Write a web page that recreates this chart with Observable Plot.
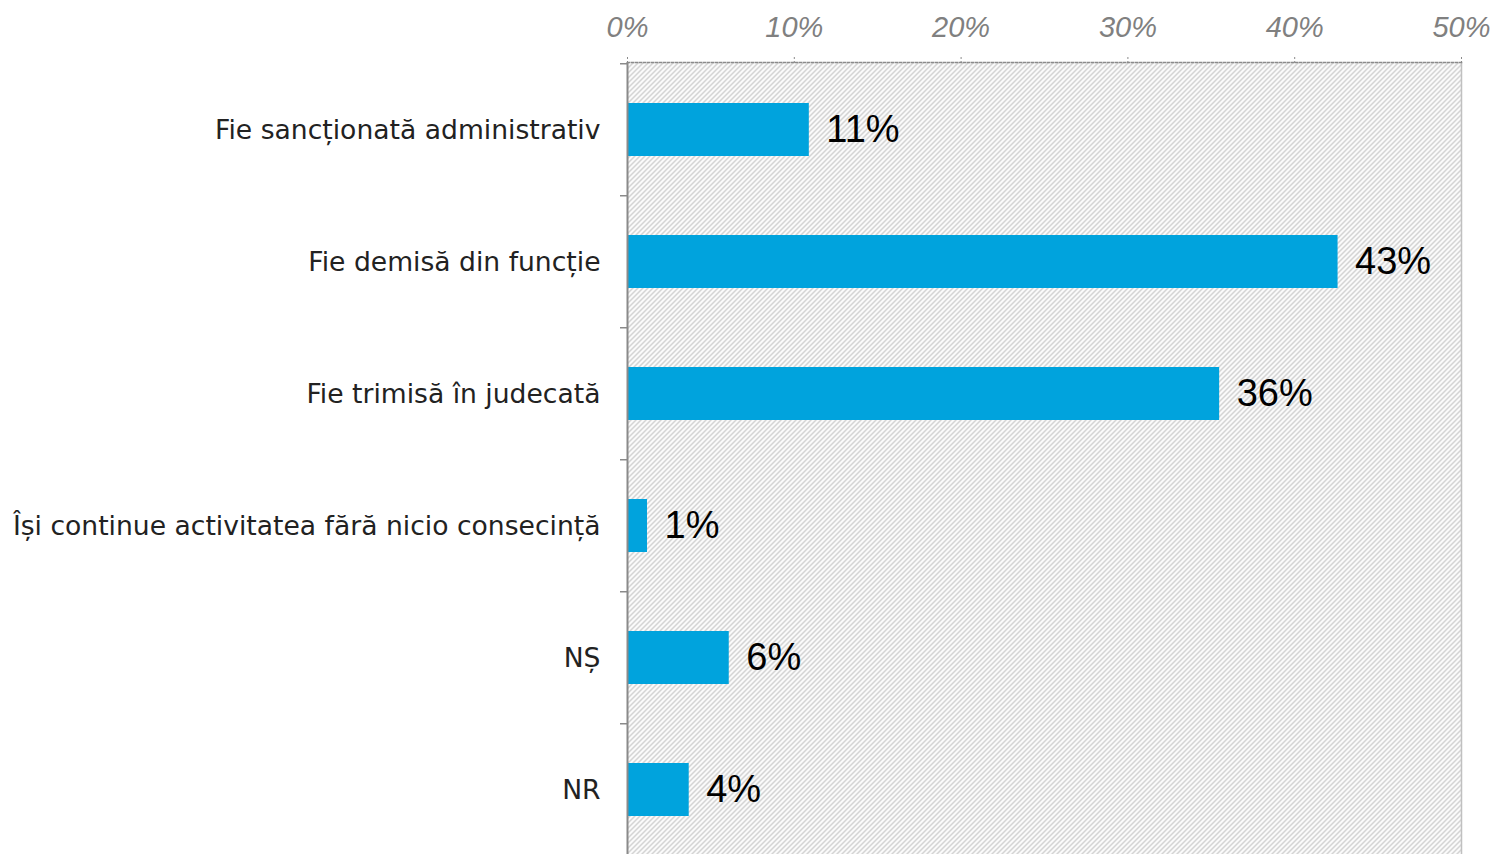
<!DOCTYPE html>
<html>
<head>
<meta charset="utf-8">
<script src="https://cdn.jsdelivr.net/npm/d3@7"></script>
<script src="https://cdn.jsdelivr.net/npm/@observablehq/plot@0.6"></script>
<style>
  html, body { margin: 0; padding: 0; background: #fff; overflow: hidden; }
</style>
</head>
<body>
<div id="chart"></div>
<script>
const categories = [
  "Fie sancționată administrativ",
  "Fie demisă din funcție",
  "Fie trimisă în judecată",
  "Își continue activitatea fără nicio consecință",
  "NȘ",
  "NR"
];
const values = [10.9, 42.6, 35.5, 1.2, 6.1, 3.7];
const valueLabels = ["11%", "43%", "36%", "1%", "6%", "4%"];
const xTicks = [0, 10, 20, 30, 40, 50];

const data = categories.map((c, i) => ({cat: c, value: values[i], label: valueLabels[i]}));

const H = 870, mTop = 62, mBottom = 13;
const step = (H - mTop - mBottom) / categories.length;

const chart = Plot.plot({
  width: 1495,
  height: H,
  marginLeft: 627,
  marginRight: 34,
  marginTop: mTop,
  marginBottom: mBottom,
  style: {background: "#fff"},
  x: {domain: [0, 50]},
  y: {domain: categories, paddingInner: 0.6, paddingOuter: 0.3, align: 0.5},
  marks: [
    Plot.frame({fill: "url(#hatch)", stroke: null}),
    Plot.frame({anchor: "right", stroke: "#c0c0c0", strokeWidth: 1.5}),
    Plot.frame({anchor: "top", stroke: "#8a8a8a", strokeWidth: 1.5, strokeDasharray: "2,2"}),
    Plot.axisX({
      anchor: "top", ticks: xTicks, tickFormat: d => d + "%",
      tickSize: 7, tickPadding: 19, stroke: "#8a8a8a", strokeDasharray: "2,2",
      fontSize: 29, fontStyle: "italic", fontFamily: "Liberation Sans, Arial, sans-serif",
      fill: "#808080", label: null
    }),
    Plot.axisY({
      anchor: "left", tickSize: 7, text: null, dy: -step / 2,
      stroke: "#8a8a8a", strokeWidth: 1.5, label: null
    }),
    Plot.axisY({
      anchor: "left", tickSize: 0, tickPadding: 27,
      fontSize: 26.6, fontFamily: "DejaVu Sans, sans-serif", fill: "#222", label: null
    }),
    Plot.barX(data, {x: "value", y: "cat", fill: "#00A3DD"}),
    Plot.ruleX([0], {stroke: "#8a8a8a", strokeWidth: 2}),
    Plot.text(data, {
      x: "value", y: "cat", text: "label", dx: 17, textAnchor: "start",
      fontSize: 38, fontFamily: "Liberation Sans, Arial, sans-serif", fill: "#000"
    })
  ]
});

const ns = "http://www.w3.org/2000/svg";
const defs = document.createElementNS(ns, "defs");
defs.innerHTML = `<pattern id="hatch" patternUnits="userSpaceOnUse" width="5" height="5">
  <rect width="5" height="5" fill="#fff"/>
  <path d="M-1,1 L1,-1 M0,5 L5,0 M4,6 L6,4" stroke="#bababa" stroke-width="1.1"/>
</pattern>`;
chart.insertBefore(defs, chart.firstChild);
document.getElementById("chart").appendChild(chart);
</script>
</body>
</html>
